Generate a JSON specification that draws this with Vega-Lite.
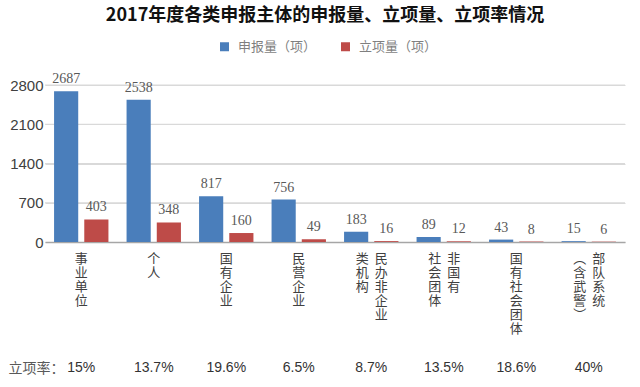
{
  "$schema": "https://vega.github.io/schema/vega-lite/v6.json",
  "autosize": "none",
  "width": 580,
  "height": 157,
  "padding": {"left": 45, "top": 85, "right": 15, "bottom": 145},
  "background": "white",
  "config": {
    "view": {"stroke": null},
    "axisX": {
      "labels": false, "ticks": false, "grid": false, "domain": true, "domainColor": "#a6a6a6", "domainWidth": 1.5,
      "titleX": -37, "titleY": 126, "titleAlign": "left", "titleBaseline": "middle",
      "titleFont": "Noto Sans CJK SC", "titleFontSize": 14, "titleFontWeight": "normal", "titleColor": "#595959"
    },
    "axisY": {
      "domain": false, "ticks": false, "labelOverlap": false, "format": "d",
      "labelFont": "Liberation Sans", "labelFontSize": 15, "labelColor": "#404040", "labelPadding": 2,
      "grid": true, "gridColor": "#d9d9d9", "gridWidth": 1
    }
  },
  "title": {
    "text": "2017年度各类申报主体的申报量、立项量、立项率情况",
    "font": "Noto Sans CJK SC",
    "fontSize": 18,
    "fontWeight": "bold",
    "color": "#111111",
    "anchor": "middle",
    "dx": -10,
    "dy": -11
  },
  "datasets": {
    "gridlines": [
      {"level": 700},
      {"level": 1400},
      {"level": 2100},
      {"level": 2800}
    ],
    "bars": [
      {"category": "事业单位", "series": "申报量（项）", "value": 2687},
      {"category": "事业单位", "series": "立项量（项）", "value": 403},
      {"category": "个人", "series": "申报量（项）", "value": 2538},
      {"category": "个人", "series": "立项量（项）", "value": 348},
      {"category": "国有企业", "series": "申报量（项）", "value": 817},
      {"category": "国有企业", "series": "立项量（项）", "value": 160},
      {"category": "民营企业", "series": "申报量（项）", "value": 756},
      {"category": "民营企业", "series": "立项量（项）", "value": 49},
      {"category": "民办非企业类机构", "series": "申报量（项）", "value": 183},
      {"category": "民办非企业类机构", "series": "立项量（项）", "value": 16},
      {"category": "非国有社会团体", "series": "申报量（项）", "value": 89},
      {"category": "非国有社会团体", "series": "立项量（项）", "value": 12},
      {"category": "国有社会团体", "series": "申报量（项）", "value": 43},
      {"category": "国有社会团体", "series": "立项量（项）", "value": 8},
      {"category": "部队系统（含武警）", "series": "申报量（项）", "value": 15},
      {"category": "部队系统（含武警）", "series": "立项量（项）", "value": 6}
    ],
    "labels": [
      {"category": "事业单位", "part": "c", "text": "事\n业\n单\n位"},
      {"category": "个人", "part": "c", "text": "个\n人"},
      {"category": "国有企业", "part": "c", "text": "国\n有\n企\n业"},
      {"category": "民营企业", "part": "c", "text": "民\n营\n企\n业"},
      {"category": "民办非企业类机构", "part": "r", "text": "民\n办\n非\n企\n业"},
      {"category": "民办非企业类机构", "part": "l", "text": "类\n机\n构"},
      {"category": "非国有社会团体", "part": "r", "text": "非\n国\n有"},
      {"category": "非国有社会团体", "part": "l", "text": "社\n会\n团\n体"},
      {"category": "国有社会团体", "part": "c", "text": "国\n有\n社\n会\n团\n体"},
      {"category": "部队系统（含武警）", "part": "r", "text": "部\n队\n系\n统"},
      {"category": "部队系统（含武警）", "part": "l", "text": "︵\n含\n武\n警\n︶"}
    ],
    "rates": [
      {"category": "事业单位", "rate": "15%"},
      {"category": "个人", "rate": "13.7%"},
      {"category": "国有企业", "rate": "19.6%"},
      {"category": "民营企业", "rate": "6.5%"},
      {"category": "民办非企业类机构", "rate": "8.7%"},
      {"category": "非国有社会团体", "rate": "13.5%"},
      {"category": "国有社会团体", "rate": "18.6%"},
      {"category": "部队系统（含武警）", "rate": "40%"}
    ]
  },
  "layer": [
    {
      "data": {"name": "gridlines"},
      "mark": {"type": "rule", "color": "#d9d9d9", "strokeWidth": 1},
      "encoding": {
        "y": {"field": "level", "type": "quantitative", "axis": {"title": null, "grid": true, "values": [0, 700, 1400, 2100, 2800]}}
      }
    },
    {
      "data": {"name": "bars"},
      "mark": {"type": "bar"},
      "encoding": {
        "x": {
          "field": "category", "type": "nominal",
          "scale": {"domain": ["事业单位", "个人", "国有企业", "民营企业", "民办非企业类机构", "非国有社会团体", "国有社会团体", "部队系统（含武警）"], "paddingInner": 0.25, "paddingOuter": 0.125},
          "axis": {"title": "立项率："}
        },
        "xOffset": {"field": "series", "type": "nominal", "sort": ["申报量（项）", "立项量（项）"], "scale": {"paddingInner": 0.2}},
        "y": {
          "field": "value", "type": "quantitative",
          "scale": {"domain": [0, 2800], "nice": false},
          "axis": {"title": null, "grid": true, "values": [0, 700, 1400, 2100, 2800]}
        },
        "color": {
          "field": "series", "type": "nominal",
          "scale": {"domain": ["申报量（项）", "立项量（项）"], "range": ["#4a7ebb", "#be4b48"]},
          "legend": {
            "orient": "none", "legendX": 173, "legendY": -45, "direction": "horizontal", "title": null,
            "symbolType": "square", "symbolSize": 81, "symbolStrokeWidth": 0, "labelOffset": 7, "columnPadding": 22,
            "labelFont": "Noto Sans CJK SC", "labelFontSize": 13, "labelColor": "#7f7f7f"
          }
        }
      }
    },
    {
      "data": {"name": "bars"},
      "mark": {"type": "text", "baseline": "bottom", "dy": -5, "font": "Liberation Serif", "fontSize": 14, "color": "#595959"},
      "encoding": {
        "x": {"field": "category", "type": "nominal", "scale": {"domain": ["事业单位", "个人", "国有企业", "民营企业", "民办非企业类机构", "非国有社会团体", "国有社会团体", "部队系统（含武警）"]}, "axis": {"title": "立项率："}},
        "xOffset": {"field": "series", "type": "nominal", "sort": ["申报量（项）", "立项量（项）"]},
        "y": {"field": "value", "type": "quantitative", "axis": {"title": null, "grid": true, "values": [0, 700, 1400, 2100, 2800]}},
        "text": {"field": "value", "type": "quantitative"}
      }
    },
    {
      "data": {"name": "labels"},
      "transform": [{"filter": "datum.part === 'c'"}],
      "mark": {"type": "text", "baseline": "top", "dy": 11, "lineBreak": "\n", "lineHeight": 14, "font": "Noto Sans CJK SC", "fontSize": 13, "color": "#404040"},
      "encoding": {
        "x": {"field": "category", "type": "nominal", "scale": {"domain": ["事业单位", "个人", "国有企业", "民营企业", "民办非企业类机构", "非国有社会团体", "国有社会团体", "部队系统（含武警）"]}, "axis": {"title": "立项率："}},
        "y": {"datum": 0, "type": "quantitative", "axis": {"title": null, "grid": true, "values": [0, 700, 1400, 2100, 2800]}},
        "text": {"field": "text", "type": "nominal"}
      }
    },
    {
      "data": {"name": "labels"},
      "transform": [{"filter": "datum.part === 'l'"}],
      "mark": {"type": "text", "baseline": "top", "dy": 11, "dx": -9, "lineBreak": "\n", "lineHeight": 14, "font": "Noto Sans CJK SC", "fontSize": 13, "color": "#404040"},
      "encoding": {
        "x": {"field": "category", "type": "nominal", "scale": {"domain": ["事业单位", "个人", "国有企业", "民营企业", "民办非企业类机构", "非国有社会团体", "国有社会团体", "部队系统（含武警）"]}, "axis": {"title": "立项率："}},
        "y": {"datum": 0, "type": "quantitative", "axis": {"title": null, "grid": true, "values": [0, 700, 1400, 2100, 2800]}},
        "text": {"field": "text", "type": "nominal"}
      }
    },
    {
      "data": {"name": "labels"},
      "transform": [{"filter": "datum.part === 'r'"}],
      "mark": {"type": "text", "baseline": "top", "dy": 11, "dx": 10, "lineBreak": "\n", "lineHeight": 14, "font": "Noto Sans CJK SC", "fontSize": 13, "color": "#404040"},
      "encoding": {
        "x": {"field": "category", "type": "nominal", "scale": {"domain": ["事业单位", "个人", "国有企业", "民营企业", "民办非企业类机构", "非国有社会团体", "国有社会团体", "部队系统（含武警）"]}, "axis": {"title": "立项率："}},
        "y": {"datum": 0, "type": "quantitative", "axis": {"title": null, "grid": true, "values": [0, 700, 1400, 2100, 2800]}},
        "text": {"field": "text", "type": "nominal"}
      }
    },
    {
      "data": {"name": "rates"},
      "mark": {"type": "text", "baseline": "middle", "dy": 126, "font": "Liberation Sans", "fontSize": 14, "color": "#333333"},
      "encoding": {
        "x": {"field": "category", "type": "nominal", "scale": {"domain": ["事业单位", "个人", "国有企业", "民营企业", "民办非企业类机构", "非国有社会团体", "国有社会团体", "部队系统（含武警）"]}, "axis": {"title": "立项率："}},
        "y": {"datum": 0, "type": "quantitative", "axis": {"title": null, "grid": true, "values": [0, 700, 1400, 2100, 2800]}},
        "text": {"field": "rate", "type": "nominal"}
      }
    }
  ]
}
